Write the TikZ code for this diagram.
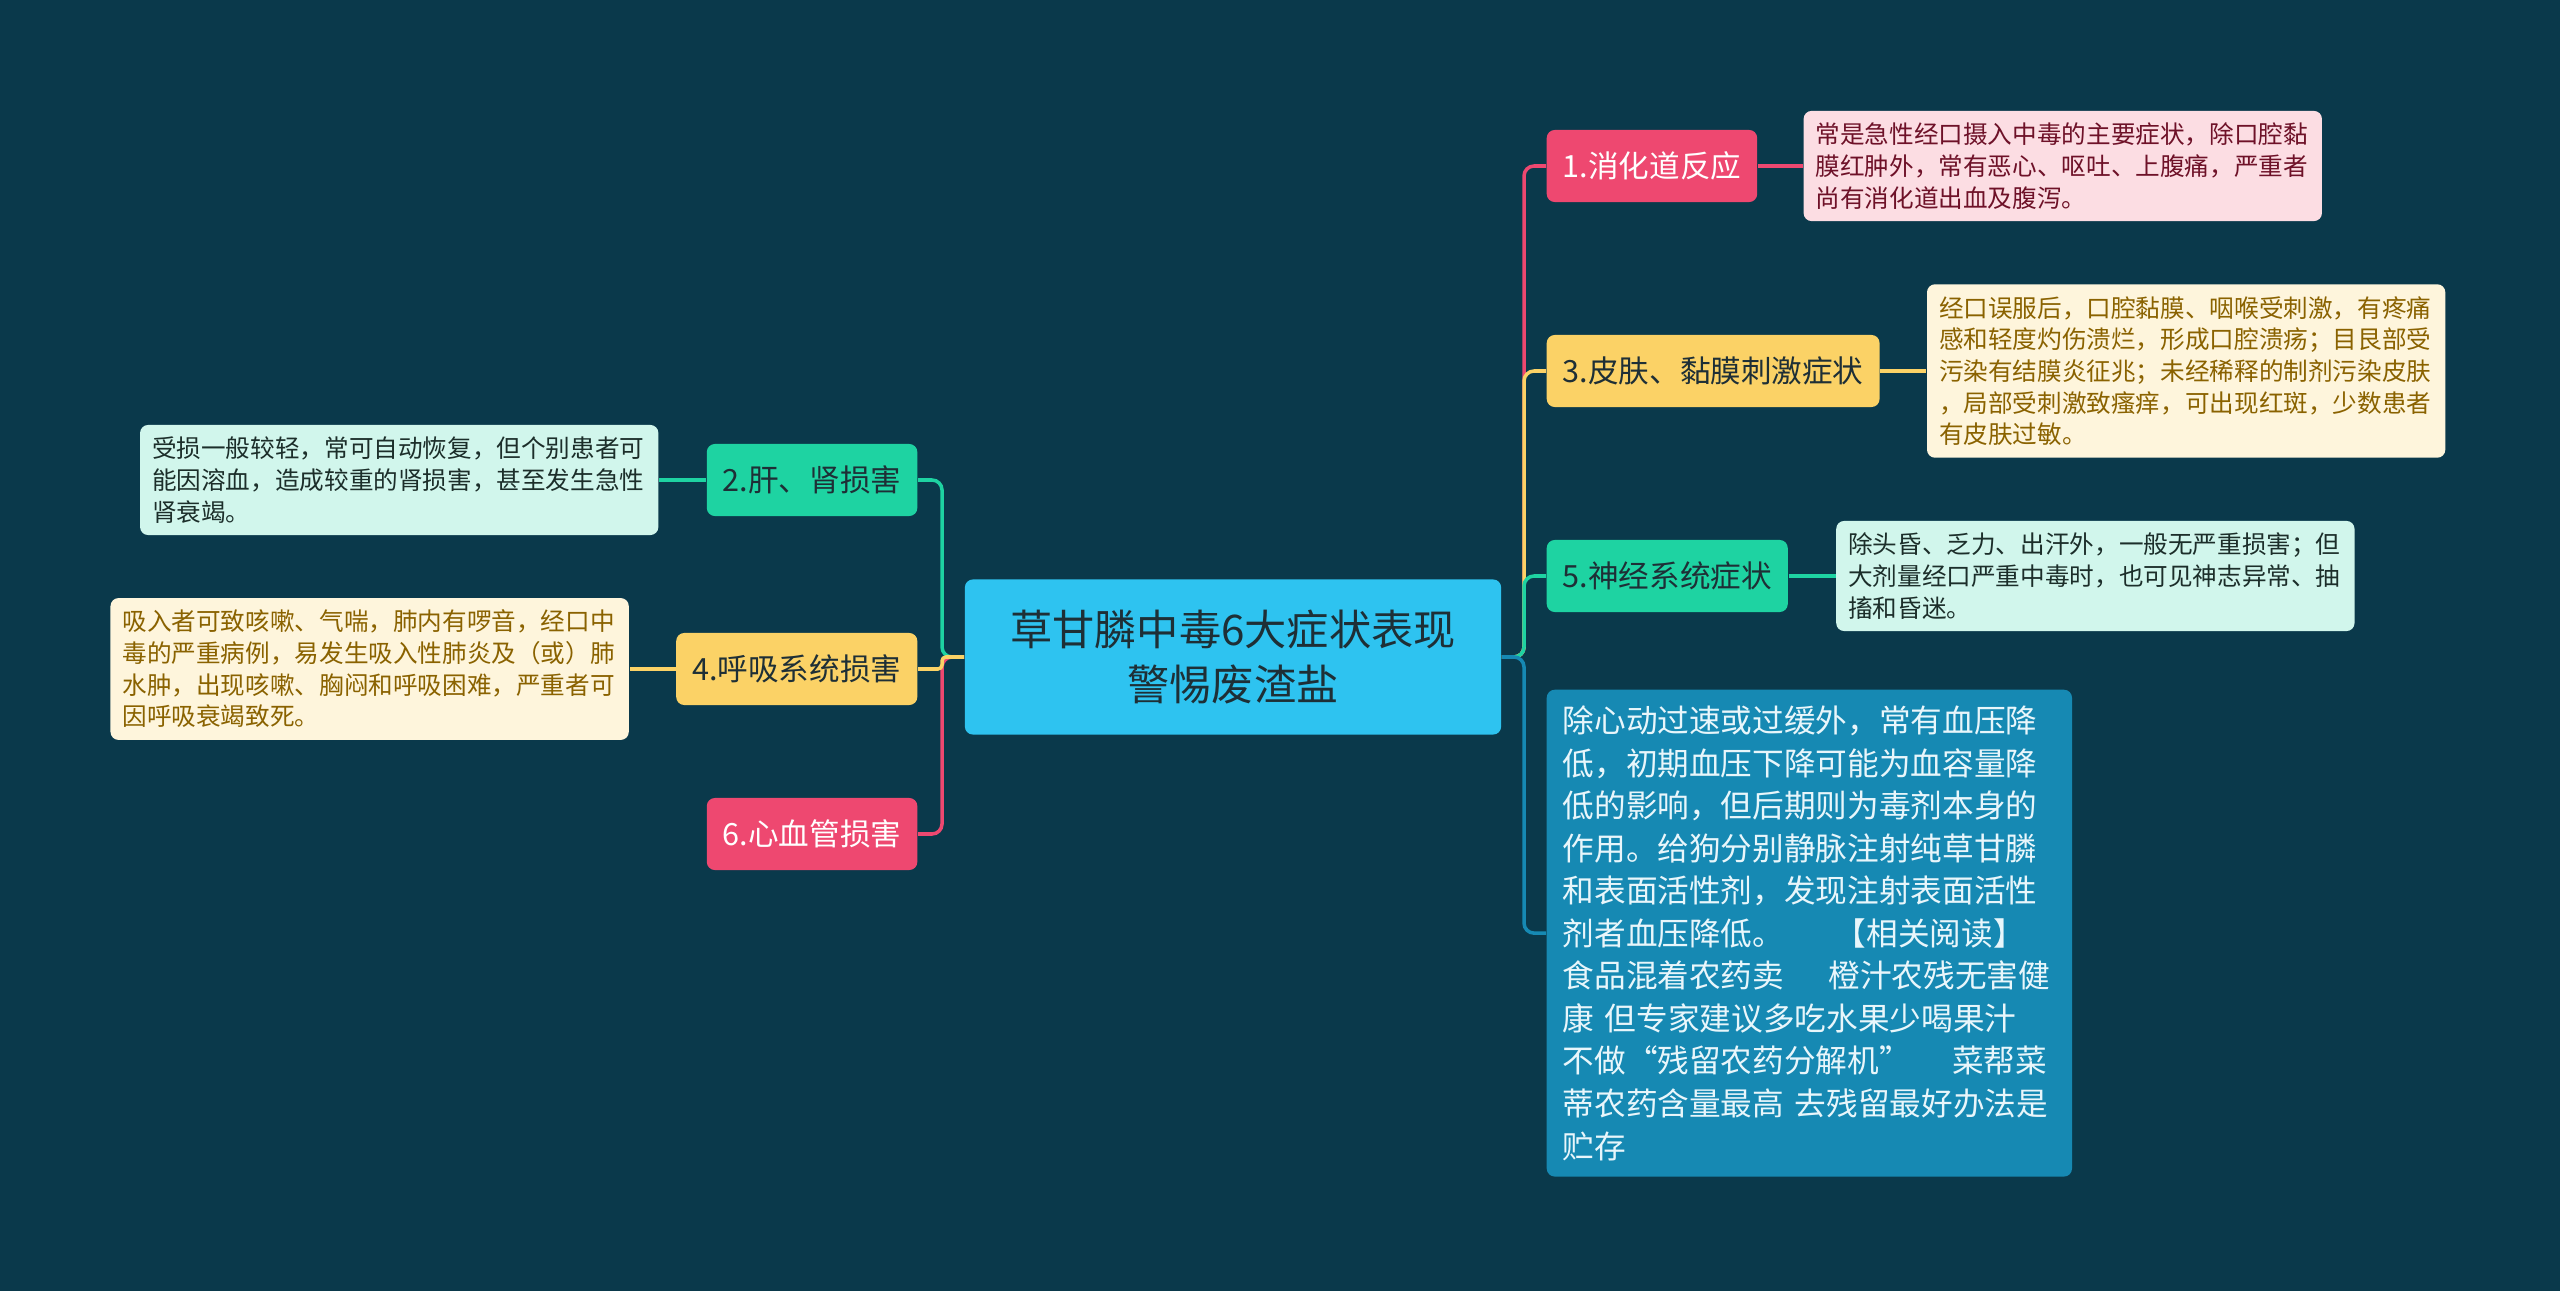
\documentclass[tikz,border=0pt]{standalone}
\usepackage{fontspec}
\setmainfont{Noto Sans CJK SC}
\usetikzlibrary{positioning}

\definecolor{bgteal}{HTML}{0A394B}
\definecolor{rootblue}{HTML}{2EC3F0}
\definecolor{rosered}{HTML}{EE4870}
\definecolor{rosepale}{HTML}{FCDDE3}
\definecolor{rosetext}{HTML}{6E1128}
\definecolor{sunyellow}{HTML}{FBD266}
\definecolor{sunpale}{HTML}{FEF5DC}
\definecolor{suntext}{HTML}{8A6200}
\definecolor{mintgreen}{HTML}{1ED3A2}
\definecolor{mintpale}{HTML}{D1F6EC}
\definecolor{minttext}{HTML}{1C2E2A}
\definecolor{seablue}{HTML}{1689B3}
\definecolor{notetext}{HTML}{E8F6FB}
\definecolor{darkink}{HTML}{1E2F36}

\tikzset{
	root/.style={rectangle, rounded corners=0.08cm, fill=rootblue, text=darkink, align=center,
		minimum width=5.36cm, minimum height=1.55cm, font=\fontsize{12}{15.8}\selectfont},
	branch/.style={rectangle, rounded corners=0.08cm, minimum height=0.72cm, inner xsep=0.16cm,
		font=\fontsize{8.7}{10}\selectfont},
	detail/.style={rectangle, rounded corners=0.08cm, text width=4.94cm, inner xsep=0.12cm,
		inner ysep=0.12cm, align=left, font=\fontsize{7}{9}\selectfont},
	note/.style={rectangle, rounded corners=0.08cm, fill=seablue, text=notetext, text width=4.93cm,
		inner sep=0.16cm, align=left, font=\fontsize{9}{12.1}\selectfont},
	link/.style={line width=1pt, rounded corners=0.1cm},
}

\begin{document}
\begin{tikzpicture}[x=0.01cm, y=-0.01cm]
	\fill[bgteal] (0,0) rectangle (2560,1291);
	\useasboundingbox (0,0) rectangle (2560,1291);

	\node[root] (c) at (1233,657) {草甘膦中毒6大症状表现\\警惕废渣盐};
	\coordinate (rs) at (1524,657);
	\coordinate (ls) at (942,657);

	\node[branch, fill=rosered, text=white, anchor=west] (n1) at (1546,166) {1.消化道反应};
	\node[detail, fill=rosepale, text=rosetext, right=0.45cm of n1] (d1) {常是急性经口摄入中毒的主要症状，除口腔黏\\膜红肿外，常有恶心、呕吐、上腹痛，严重者\\尚有消化道出血及腹泻。};
	\node[branch, fill=sunyellow, text=darkink, anchor=west] (n3) at (1546,371) {3.皮肤、黏膜刺激症状};
	\node[detail, fill=sunpale, text=suntext, right=0.46cm of n3] (d3) {经口误服后，口腔黏膜、咽喉受刺激，有疼痛\\感和轻度灼伤溃烂，形成口腔溃疡；目艮部受\\污染有结膜炎征兆；未经稀释的制剂污染皮肤\\，局部受刺激致瘙痒，可出现红斑，少数患者\\有皮肤过敏。};
	\node[branch, fill=mintgreen, text=darkink, anchor=west] (n5) at (1546,576) {5.神经系统症状};
	\node[detail, fill=mintpale, text=minttext, right=0.47cm of n5] (d5) {除头昏、乏力、出汗外，一般无严重损害；但\\大剂量经口严重中毒时，也可见神志异常、抽\\搐和昏迷。};
	\node[note, anchor=north west] (nb) at (1546,689) {除心动过速或过缓外，常有血压降\\低，初期血压下降可能为血容量降\\低的影响，但后期则为毒剂本身的\\作用。给狗分别静脉注射纯草甘膦\\和表面活性剂，发现注射表面活性\\剂者血压降低。\hspace{1.6em}【相关阅读】\\食品混着农药卖\hspace{1.4em}橙汁农残无害健\\康 但专家建议多吃水果少喝果汁\\不做“残留农药分解机”\hspace{1.3em}菜帮菜\\蒂农药含量最高 去残留最好办法是\\贮存};

	\node[branch, fill=mintgreen, text=darkink, anchor=east] (n2) at (918,480) {2.肝、肾损害};
	\node[detail, fill=mintpale, text=minttext, left=0.47cm of n2] (d2) {受损一般较轻，常可自动恢复，但个别患者可\\能因溶血，造成较重的肾损害，甚至发生急性\\肾衰竭。};
	\node[branch, fill=sunyellow, text=darkink, anchor=east] (n4) at (918,669) {4.呼吸系统损害};
	\node[detail, fill=sunpale, text=suntext, left=0.46cm of n4] (d4) {吸入者可致咳嗽、气喘，肺内有啰音，经口中\\毒的严重病例，易发生吸入性肺炎及（或）肺\\水肿，出现咳嗽、胸闷和呼吸困难，严重者可\\因呼吸衰竭致死。};
	\node[branch, fill=rosered, text=white, anchor=east] (n6) at (918,834) {6.心血管损害};

	\draw[link, rosered] (c.east) -- (rs) |- (n1.west);
	\draw[link, sunyellow] (c.east) -- (rs) |- (n3.west);
	\draw[link, mintgreen] (c.east) -- (rs) |- (n5.west);
	\draw[link, seablue] (c.east) -- (rs) |- (nb.west);
	\draw[link, rosered] (n1.east) -- (d1.west);
	\draw[link, sunyellow] (n3.east) -- (d3.west);
	\draw[link, mintgreen] (n5.east) -- (d5.west);

	\draw[link, mintgreen] (c.west) -- (ls) |- (n2.east);
	\draw[link, rosered] (c.west) -- (ls) |- (n6.east);
	\draw[link, sunyellow, rounded corners=0.04cm] (c.west) -- (ls) |- (n4.east);
	\draw[link, mintgreen] (n2.west) -- (d2.east);
	\draw[link, sunyellow] (n4.west) -- (d4.east);
\end{tikzpicture}
\end{document}
